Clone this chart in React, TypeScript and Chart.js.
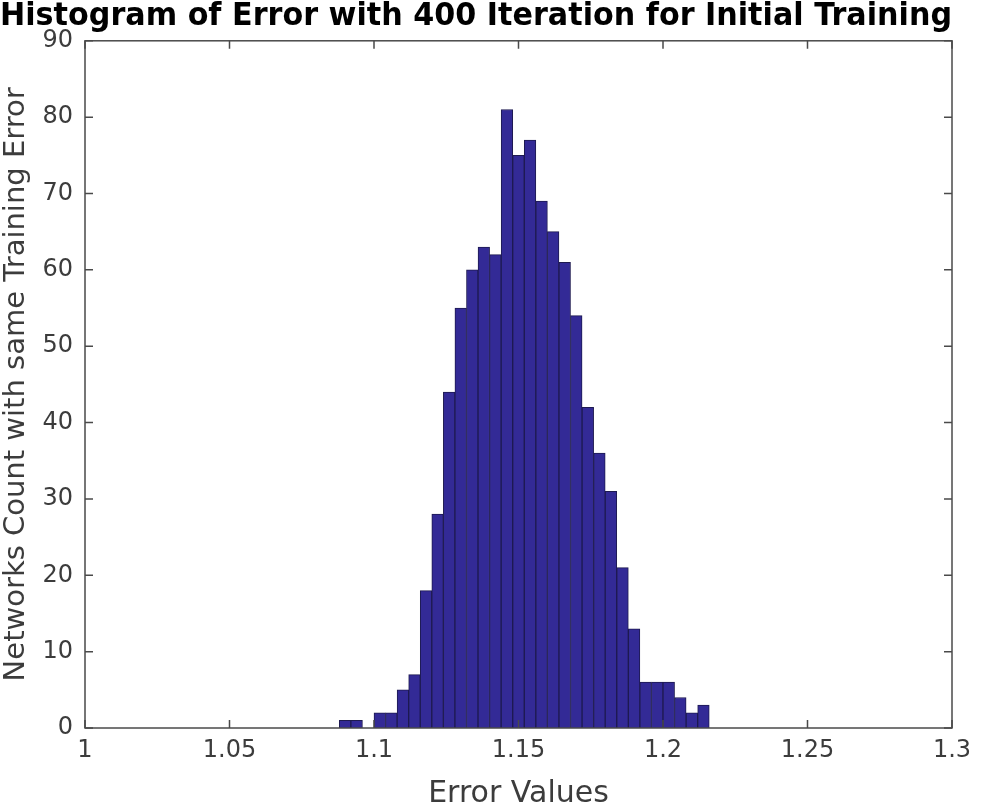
import React, { useEffect, useRef } from "react";
import { Chart, registerables } from "chart.js";

Chart.register(...registerables);

// ---- data ----
const binStarts = [
  1.088, 1.092, 1.096, 1.1, 1.104, 1.108, 1.112, 1.116, 1.12, 1.124, 1.128,
  1.132, 1.136, 1.14, 1.144, 1.148, 1.152, 1.156, 1.16, 1.164, 1.168, 1.172,
  1.176, 1.18, 1.184, 1.188, 1.192, 1.196, 1.2, 1.204, 1.208, 1.212,
];
const counts = [
  1, 1, 0, 2, 2, 5, 7, 18, 28, 44, 55, 60, 63, 62, 81, 75, 77, 69, 65, 61, 54,
  42, 36, 31, 21, 13, 6, 6, 6, 4, 2, 3,
];
const binWidth = 0.004;

const xTicks = [1, 1.05, 1.1, 1.15, 1.2, 1.25, 1.3];
const xTickLabels = ["1", "1.05", "1.1", "1.15", "1.2", "1.25", "1.3"];
const yTicks = [0, 10, 20, 30, 40, 50, 60, 70, 80, 90];
const yTickLabels = ["0", "10", "20", "30", "40", "50", "60", "70", "80", "90"];

const titleText = "Histogram of Error with 400 Iteration for Initial Training";
const xTitle = "Error Values";
const yTitle = "Networks Count with same Training Error";

// ---- styles ----
const barFill = "#332a96";
const barEdge = "#1e1a50";
const axisColor = "#4a4a4a";
const labelColor = "#3c3c3c";
const FONT = "DejaVu Sans";

const boxPlugin = {
  id: "boxTicks",
  afterDatasetsDraw(chart: any) {
    const { ctx, chartArea: a, scales } = chart;
    const x = scales.x;
    const y = scales.y;
    const L = 8;
    ctx.save();
    ctx.strokeStyle = axisColor;
    ctx.lineWidth = 1.5;
    ctx.strokeRect(a.left, a.top, a.right - a.left, a.bottom - a.top);
    ctx.beginPath();
    x.ticks.forEach((t: any) => {
      const px = x.getPixelForValue(t.value);
      ctx.moveTo(px, a.bottom);
      ctx.lineTo(px, a.bottom - L);
      ctx.moveTo(px, a.top);
      ctx.lineTo(px, a.top + L);
    });
    y.ticks.forEach((t: any) => {
      const py = y.getPixelForValue(t.value);
      ctx.moveTo(a.left, py);
      ctx.lineTo(a.left + L, py);
      ctx.moveTo(a.right, py);
      ctx.lineTo(a.right - L, py);
    });
    ctx.stroke();
    ctx.restore();
  },
};

export default function App() {
  const ref = useRef<HTMLCanvasElement | null>(null);

  useEffect(() => {
    if (!ref.current) return;
    const data = binStarts.map((s, i) => ({ x: s + binWidth / 2, y: counts[i] }));
    const chart = new Chart(ref.current, {
      type: "bar",
      data: {
        datasets: [
          {
            data: data as any,
            backgroundColor: barFill,
            borderColor: barEdge,
            borderWidth: 1,
            barPercentage: 1,
            categoryPercentage: 1,
          },
        ],
      },
      options: {
        animation: false,
        responsive: false,
        layout: { padding: { left: 0, right: 39, top: 0, bottom: 0 } },
        plugins: {
          legend: { display: false },
          tooltip: { enabled: false },
          title: {
            display: true,
            text: titleText,
            align: "start",
            color: "#000",
            font: { family: FONT, size: 31.8, weight: "bold", lineHeight: 1.0 },
            padding: { top: 1, bottom: 8 },
          },
        },
        scales: {
          x: {
            type: "linear",
            min: 1,
            max: 1.3,
            offset: false,
            grid: { display: false, drawTicks: false },
            border: { display: false },
            afterBuildTicks: (s: any) => {
              s.ticks = xTicks.map((v) => ({ value: v }));
            },
            afterFit: (s: any) => {
              s.height = 83;
            },
            ticks: {
              autoSkip: false,
              maxRotation: 0,
              padding: 8,
              color: labelColor,
              font: { family: FONT, size: 24 },
              callback: (_v: any, i: number) => xTickLabels[i],
            },
            title: {
              display: true,
              text: xTitle,
              color: labelColor,
              font: { family: FONT, size: 30, lineHeight: 1.1 },
              padding: { top: 0, bottom: 0 },
            },
          },
          y: {
            min: 0,
            max: 90,
            grid: { display: false, drawTicks: false },
            border: { display: false },
            afterBuildTicks: (s: any) => {
              s.ticks = yTicks.map((v) => ({ value: v }));
            },
            afterFit: (s: any) => {
              s.width = 85;
            },
            ticks: {
              autoSkip: false,
              padding: 12,
              color: labelColor,
              font: { family: FONT, size: 24 },
              callback: (_v: any, i: number) => yTickLabels[i],
            },
            title: {
              display: true,
              text: yTitle,
              color: labelColor,
              font: { family: FONT, size: 29, lineHeight: 1.1 },
              padding: { top: 1, bottom: 0 },
            },
          },
        },
      } as any,
      plugins: [boxPlugin],
    });
    return () => chart.destroy();
  }, []);

  return (
    <div style={{ position: "absolute", left: 0, top: 0, width: 991, height: 811, background: "#fff" }}>
      <canvas ref={ref} width={991} height={811} />
    </div>
  );
}
